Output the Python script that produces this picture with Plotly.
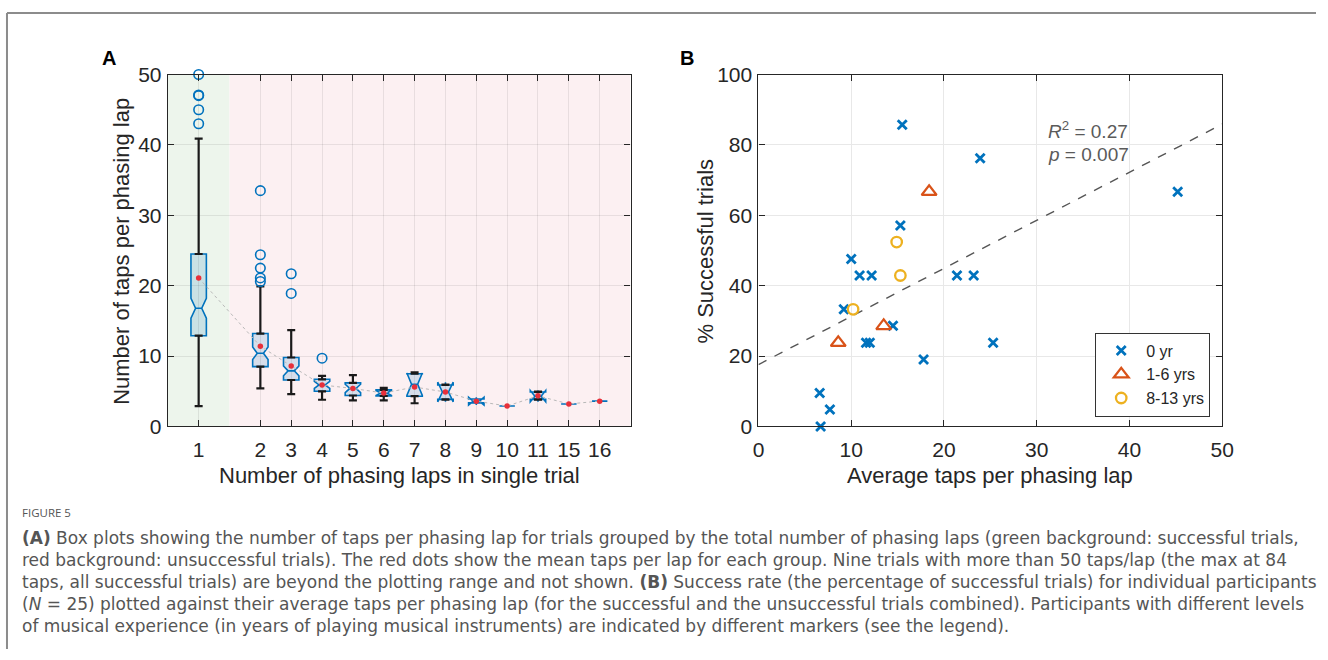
import plotly.graph_objects as go

# ---------------- Panel A data (box statistics) ----------------
groups = ["1", "2", "3", "4", "5", "6", "7", "8", "9", "10", "11", "15", "16"]
q1 = [12.9, 8.5, 6.6, 5.0, 4.4, 4.35, 4.3, 3.85, 3.35, 2.9, 3.85, 3.2, 3.6]
median = [16.8, 10.4, 7.9, 5.9, 5.4, 4.75, 6.0, 4.9, 3.6, 2.9, 4.3, 3.2, 3.6]
q3 = [24.5, 13.2, 9.8, 6.7, 6.2, 5.2, 7.5, 5.9, 3.9, 2.9, 4.9, 3.2, 3.6]
whisk_lo = [2.9, 5.4, 4.6, 3.8, 3.7, 3.7, 3.3, 3.8, 3.35, 2.9, 3.8, 3.2, 3.6]
whisk_hi = [40.9, 19.9, 13.7, 7.2, 7.3, 5.5, 7.7, 5.95, 3.9, 2.9, 4.95, 3.2, 3.6]
means = [21.1, 11.4, 8.6, 5.9, 5.4, 4.75, 5.6, 4.9, 3.6, 2.9, 4.35, 3.2, 3.6]
notch = [1.4, 0.9, 0.7, 0.5, 0.6, 0.35, 1.6, 1.4, 0.55, 0.0, 0.8, 0.0, 0.0]
outlier_group = ["1", "1", "1", "1", "1", "2", "2", "2", "2", "2", "3", "3", "4"]
outlier_value = [43, 45, 47, 47.1, 50, 20.6, 21.1, 22.5, 24.4, 33.5, 18.9, 21.7, 9.7]
n_success_groups = 1  # groups on green background

# ---------------- Panel B data ----------------
x_0yr = [15.5, 23.9, 45.2, 15.3, 10.0, 10.9, 12.2, 21.4, 23.2, 9.2, 14.5, 11.6, 12.0, 25.3, 17.8, 6.6, 7.7, 6.7]
y_0yr = [85.7, 76.2, 66.7, 57.1, 47.6, 42.9, 42.9, 42.9, 42.9, 33.3, 28.6, 23.8, 23.8, 23.8, 19.0, 9.5, 4.8, 0.0]
x_1_6 = [18.4, 13.5, 8.6]
y_1_6 = [66.7, 28.6, 23.8]
x_8_13 = [14.9, 15.3, 10.2]
y_8_13 = [52.4, 42.9, 33.3]
fit_intercept = 17.6
fit_slope = 1.366
fit_x = [0, 50]

BLUE = "#0072BD"
RED = "#D95319"
YEL = "#EDB120"

# categorical positions with a gap after the first group
pos = [1] + [i + 3 for i in range(len(groups) - 1)]
gpos = dict(zip(groups, pos))

fig = go.Figure()

# whiskers (black) via error bars
up_x, up_y, up_e = [], [], []
lo_x, lo_y, lo_e = [], [], []
for p, a, b, l, h in zip(pos, q1, q3, whisk_lo, whisk_hi):
    if h > b:
        up_x.append(p); up_y.append(b); up_e.append(h - b)
    if l < a:
        lo_x.append(p); lo_y.append(a); lo_e.append(a - l)
fig.add_trace(go.Scatter(x=up_x, y=up_y, mode="markers", marker=dict(opacity=0),
                         error_y=dict(type="data", array=up_e, arrayminus=[0] * len(up_e), symmetric=False,
                                      color="#1a1a1a", thickness=2.2, width=4),
                         showlegend=False, hoverinfo="skip", xaxis="x", yaxis="y"))
fig.add_trace(go.Scatter(x=lo_x, y=lo_y, mode="markers", marker=dict(opacity=0),
                         error_y=dict(type="data", array=[0] * len(lo_e), arrayminus=lo_e, symmetric=False,
                                      color="#1a1a1a", thickness=2.2, width=4),
                         showlegend=False, hoverinfo="skip", xaxis="x", yaxis="y"))

# boxes
fig.add_trace(go.Box(x=pos, q1=q1, median=median, q3=q3, lowerfence=q1, upperfence=q3,
                     notched=True, notchspan=notch, notchwidth=0.3, width=0.5, whiskerwidth=0,
                     boxpoints=False, fillcolor="rgba(0,114,189,0.15)",
                     line=dict(color=BLUE, width=1.6), showlegend=False, hoverinfo="skip",
                     xaxis="x", yaxis="y"))

# outliers
fig.add_trace(go.Scatter(x=[gpos[g] for g in outlier_group], y=outlier_value, mode="markers",
                         marker=dict(symbol="circle-open", size=9.5, color=BLUE, line=dict(width=1.6)),
                         cliponaxis=False, showlegend=False, hoverinfo="skip", xaxis="x", yaxis="y"))

# means
fig.add_trace(go.Scatter(x=pos, y=means, mode="lines", line=dict(color="#b8b8b8", width=1, dash="dot"),
                         showlegend=False, hoverinfo="skip", xaxis="x", yaxis="y"))
fig.add_trace(go.Scatter(x=pos, y=means, mode="markers", marker=dict(color="#E8303A", size=5.5),
                         showlegend=False, hoverinfo="skip", xaxis="x", yaxis="y"))

# ---------------- Panel B traces ----------------
fig.add_trace(go.Scatter(x=fit_x, y=[fit_intercept + fit_slope * v for v in fit_x], mode="lines",
                         line=dict(color="#555555", width=1.4, dash="dash"),
                         showlegend=False, hoverinfo="skip", xaxis="x2", yaxis="y2"))
fig.add_trace(go.Scatter(x=x_0yr, y=y_0yr, mode="markers", name="0 yr", cliponaxis=False,
                         marker=dict(symbol="x-thin", size=9, color=BLUE, line=dict(width=2.8, color=BLUE)),
                         xaxis="x2", yaxis="y2"))
fig.add_trace(go.Scatter(x=x_1_6, y=y_1_6, mode="markers", name="1-6 yrs",
                         marker=dict(symbol="triangle-up-open", size=13, color=RED, line=dict(width=2.2)),
                         xaxis="x2", yaxis="y2"))
fig.add_trace(go.Scatter(x=x_8_13, y=y_8_13, mode="markers", name="8-13 yrs",
                         marker=dict(symbol="circle-open", size=10.5, color=YEL, line=dict(width=2.3)),
                         xaxis="x2", yaxis="y2"))

W, H = 1328, 660
# map target picture pixels to page pixels (compensates the capture's slight scaling)
def X(t): return min(max((t - 6.1) / 0.987, 0.0), W)
def Y(t): return min(max((t - 10.3) / 0.968, 0.0), H)
def px(x): return X(x) / W
def py(y): return 1 - Y(y) / H

ydom = [py(426), py(73)]
axis_common = dict(showline=True, linecolor="#262626", linewidth=1.2, mirror="ticks", ticks="inside",
                   ticklen=6, tickcolor="#262626", tickfont=dict(size=21, color="#262626"),
                   zeroline=False, showgrid=True)

shapes = [
    dict(type="rect", xref="x", yref="y", x0=0, x1=(pos[n_success_groups - 1] + pos[n_success_groups]) / 2,
         y0=0, y1=50, fillcolor="#edf5ec", line=dict(width=0), layer="below"),
    dict(type="rect", xref="x", yref="y", x0=(pos[n_success_groups - 1] + pos[n_success_groups]) / 2, x1=15,
         y0=0, y1=50, fillcolor="#fcf0f2", line=dict(width=0), layer="below"),
    dict(type="line", xref="paper", yref="paper", x0=1 / W, x1=px(1320), y0=1 - 1 / H, y1=1 - 1 / H,
         line=dict(color="#8c8c8c", width=2)),
    dict(type="line", xref="paper", yref="paper", x0=1 / W, x1=1 / W, y0=1 - 1 / H, y1=0,
         line=dict(color="#8c8c8c", width=2)),
]

ann = []
def add_text(x, y, text, size, color="#262626", angle=0, xanchor="center", family=None):
    d = dict(xref="paper", yref="paper", x=px(x), y=py(y), text=text, showarrow=False,
             xanchor=xanchor, yanchor="middle", textangle=angle,
             font=dict(size=size, color=color, **({"family": family} if family else {})))
    ann.append(d)

add_text(109, 56, "<b>A</b>", 20, color="#000")
add_text(687, 56, "<b>B</b>", 20, color="#000")
add_text(122, 250, "Number of taps per phasing lap", 22, angle=-90)
add_text(400, 475, "Number of phasing laps in single trial", 22)
add_text(706, 250, "% Successful trials", 22, angle=-90)
add_text(991, 475, "Average taps per phasing lap", 22)
add_text(1047, 129, "<i>R</i><sup>2</sup> = 0.27", 19, color="#5a5a5a", xanchor="left")
add_text(1047, 153, "<i>p</i> = 0.007", 19, color="#5a5a5a", xanchor="left")

CAP = "DejaVu Sans"
capc = "#555555"
add_text(20, 512, "FIGURE 5", 11.5, color=capc, xanchor="left", family="Open Sans")
cap_lines = [
    "<b>(A)</b> Box plots showing the number of taps per phasing lap for trials grouped by the total number of phasing laps (green background: successful trials,",
    "red background: unsuccessful trials). The red dots show the mean taps per lap for each group. Nine trials with more than 50 taps/lap (the max at 84",
    "taps, all successful trials) are beyond the plotting range and not shown. <b>(B)</b> Success rate (the percentage of successful trials) for individual participants",
    "(<i>N</i> = 25) plotted against their average taps per phasing lap (for the successful and the unsuccessful trials combined). Participants with different levels",
    "of musical experience (in years of playing musical instruments) are indicated by different markers (see the legend).",
]
for i, t in enumerate(cap_lines):
    add_text(20, 538 + i * 22, t, 17, color=capc, xanchor="left", family=CAP)

fig.update_layout(
    width=W, height=H, margin=dict(l=0, r=0, t=0, b=0),
    paper_bgcolor="white", plot_bgcolor="white",
    font=dict(family="Liberation Sans, Arial, sans-serif", color="#262626"),
    xaxis=dict(domain=[px(168), px(631)], range=[0, 15], tickvals=pos, ticktext=groups,
               gridcolor="rgba(0,0,0,0.08)", anchor="y", ticklabelstandoff=4, **axis_common),
    yaxis=dict(domain=ydom, range=[0, 50], tickvals=[0, 10, 20, 30, 40, 50],
               gridcolor="rgba(0,0,0,0.08)", anchor="x", ticklabelstandoff=1, **axis_common),
    xaxis2=dict(domain=[px(759), px(1223)], range=[0, 50], tickvals=[0, 10, 20, 30, 40, 50],
                gridcolor="#e8e8e8", anchor="y2", ticklabelstandoff=4, **axis_common),
    yaxis2=dict(domain=ydom, range=[0, 100], tickvals=[0, 20, 40, 60, 80, 100],
                gridcolor="#e8e8e8", anchor="x2", ticklabelstandoff=1, **axis_common),
    legend=dict(x=px(1211), y=py(416), xanchor="right", yanchor="bottom",
                bgcolor="white", bordercolor="#333333", borderwidth=1, itemwidth=40,
                font=dict(size=16, color="#262626"), tracegroupgap=0),
    shapes=shapes, annotations=ann,
)

fig.write_html("out.html", config={"displayModeBar": False},
               post_script="document.body.style.margin='0';document.documentElement.style.overflow='hidden';")
